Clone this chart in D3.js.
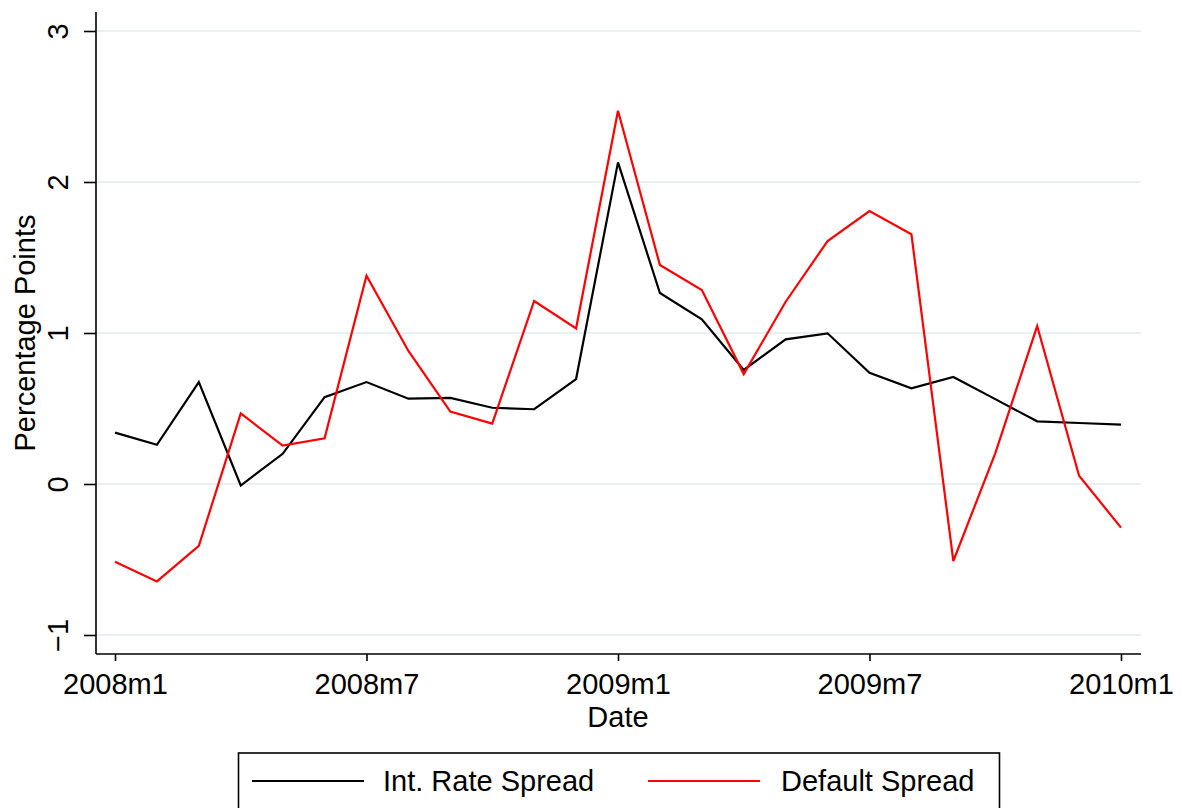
<!DOCTYPE html>
<html>
<head>
<meta charset="utf-8">
<script src="https://cdn.jsdelivr.net/npm/d3@7"></script>
<style>
  body { margin: 0; background: #fff; }
  text { font-family: "Liberation Sans", Arial, Helvetica, sans-serif; fill: #000; }
</style>
</head>
<body>
<div id="chart"></div>
<script>
(function() {

  let width  = 1182,
      height = 808;

  // monthly observations 2008m1 .. 2010m1
  let months = d3.range(25);
  let tickMonths = [0, 6, 12, 18, 24];
  let tickLabels = ["2008m1", "2008m7", "2009m1", "2009m7", "2010m1"];
  let yTicks = [-1, 0, 1, 2, 3];

  let rateSpread = [0.34, 0.26, 0.675, -0.01, 0.20, 0.575, 0.675, 0.565, 0.57, 0.505, 0.495, 0.695,
                    2.13, 1.265, 1.09, 0.755, 0.958, 0.998, 0.737, 0.634, 0.709, 0.562, 0.415, 0.404, 0.393];
  let defaultSpread = [-0.515, -0.645, -0.41, 0.468, 0.254, 0.302, 1.38, 0.881, 0.479, 0.40, 1.212, 1.031,
                       2.472, 1.45, 1.285, 0.728, 1.207, 1.609, 1.808, 1.654, -0.51, 0.203, 1.046, 0.055, -0.289];

  let series = [
    { name: "Int. Rate Spread", color: "#000", values: rateSpread },
    { name: "Default Spread",   color: "#ff0000", values: defaultSpread }
  ];

  let svg = d3.select('#chart')
    .append ("svg")
    .attr   ("width", width)
    .attr   ("height", height);

  // scales
  let x = d3.scaleLinear()
    .domain ([0, 24])
    .range  ([115, 1121]);

  let y = d3.scaleLinear()
    .domain ([-1, 3])
    .range  ([635, 31]);

  let plotLeft = 96, plotRight = 1141, plotTop = 12, plotBottom = 654;

  // gridlines
  svg.append("g")
    .selectAll("line")
    .data  (yTicks)
    .enter ().append("line")
    .attr  ("x1", plotLeft)
    .attr  ("x2", plotRight)
    .attr  ("y1", d => y(d))
    .attr  ("y2", d => y(d))
    .attr  ("stroke", "#e9f0f1")
    .attr  ("stroke-width", 2);

  // y axis
  let yAxis = svg.append("g")
    .attr("transform", `translate(${plotLeft},0)`)
    .call(d3.axisLeft(y).tickValues(yTicks).tickSize(12).tickPadding(16).tickFormat(d3.format("d")));

  yAxis.select(".domain").remove();
  yAxis.append("line")
    .attr("x1", 0).attr("x2", 0)
    .attr("y1", plotTop).attr("y2", plotBottom)
    .attr("stroke", "#000").attr("stroke-width", 1.6);

  yAxis.selectAll(".tick line").attr("stroke-width", 1.6);
  yAxis.selectAll(".tick text")
    .attr  ("font-size", 29)
    .attr  ("x", null)
    .attr  ("dy", null)
    .attr  ("text-anchor", "middle")
    .attr  ("transform", "translate(-28,0) rotate(-90)");

  // x axis
  let xAxis = svg.append("g")
    .attr("transform", `translate(0,${plotBottom})`)
    .call(d3.axisBottom(x).tickValues(tickMonths).tickSize(7).tickPadding(6)
      .tickFormat((d, i) => tickLabels[i]));

  xAxis.select(".domain").remove();
  xAxis.append("line")
    .attr("x1", plotLeft).attr("x2", plotRight)
    .attr("y1", 0).attr("y2", 0)
    .attr("stroke", "#000").attr("stroke-width", 1.6);

  xAxis.selectAll(".tick line").attr("stroke-width", 1.6);
  xAxis.selectAll(".tick text")
    .attr("font-size", 29)
    .attr("dy", null)
    .attr("y", 40);

  // axis titles
  svg.append("text")
    .attr("x", 618)
    .attr("y", 727)
    .attr("text-anchor", "middle")
    .attr("font-size", 29)
    .text("Date");

  svg.append("text")
    .attr("transform", "translate(35,333) rotate(-90)")
    .attr("text-anchor", "middle")
    .attr("font-size", 29)
    .text("Percentage Points");

  // lines
  let line = d3.line()
    .x((d, i) => x(months[i]))
    .y(d => y(d));

  svg.append("g")
    .selectAll("path")
    .data  (series)
    .enter ().append("path")
    .attr  ("d", d => line(d.values))
    .attr  ("fill", "none")
    .attr  ("stroke", d => d.color)
    .attr  ("stroke-width", 2.2)
    .attr  ("stroke-linejoin", "miter");

  // legend
  let legend = svg.append("g");

  legend.append("rect")
    .attr("x", 238.5)
    .attr("y", 753)
    .attr("width", 761)
    .attr("height", 80)
    .attr("fill", "#fff")
    .attr("stroke", "#000")
    .attr("stroke-width", 1.6);

  let legendX = [{ line: 252, text: 383 }, { line: 648, text: 781 }];

  let items = legend.selectAll(".item")
    .data  (series)
    .enter ().append("g")
    .attr  ("class", "item");

  items.append("line")
    .attr("x1", (d, i) => legendX[i].line)
    .attr("x2", (d, i) => legendX[i].line + 112)
    .attr("y1", 781)
    .attr("y2", 781)
    .attr("stroke", d => d.color)
    .attr("stroke-width", 2.2);

  items.append("text")
    .attr("x", (d, i) => legendX[i].text)
    .attr("y", 791)
    .attr("font-size", 29)
    .text(d => d.name);

})();
</script>
</body>
</html>
